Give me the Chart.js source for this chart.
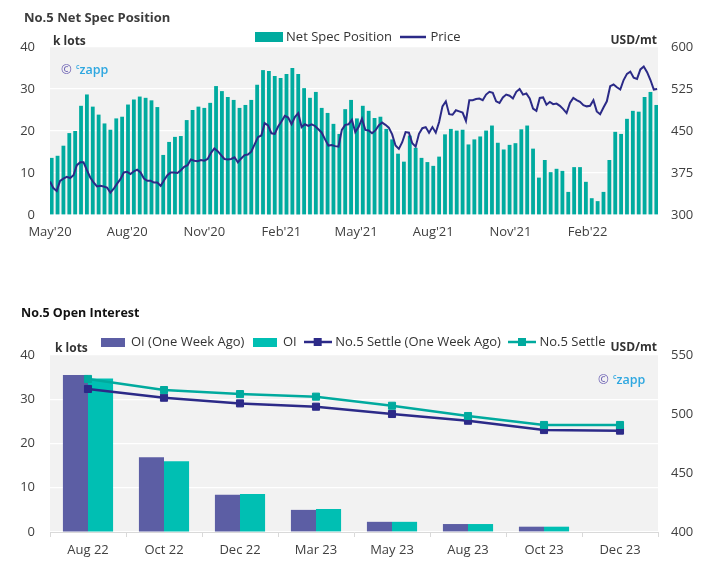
<!DOCTYPE html>
<html><head><meta charset="utf-8">
<script src="https://cdn.jsdelivr.net/npm/chart.js@4.4.0/dist/chart.umd.min.js"></script>
<style>
html,body{margin:0;padding:0;background:#fff;}
body{width:722px;height:566px;position:relative;overflow:hidden;font-family:'Open Sans',sans-serif;}
canvas{position:absolute;left:0;}
.t{position:absolute;white-space:nowrap;line-height:18px;z-index:2;}
.title{font-weight:700;}
.unit{font-weight:700;font-size:12px;color:#333;}
.wm{position:absolute;white-space:nowrap;line-height:18px;z-index:2;}
.wm .cp{color:#6a5fb3;font-size:13px;}
.wm .cz{color:#2ea7e0;font-size:12.5px;font-weight:600;}
.wm sup{font-size:7px;vertical-align:5px;}
</style></head><body>
<canvas id="c1" width="722" height="250" style="top:0"></canvas>
<canvas id="c2" width="722" height="276" style="top:290px"></canvas>
<div class="t title" style="left:24px;top:8px;font-size:13px;color:#3c3c3c">No.5 Net Spec Position</div>
<div class="t unit" style="left:53px;top:32px">k lots</div>
<div class="t unit" style="right:65px;top:30.5px">USD/mt</div>
<div class="wm" style="left:61px;top:58px"><span class="cp">©</span> <span class="cz"><sup>c</sup>zapp</span></div>
<div class="t title" style="left:21px;top:304px;font-size:12.5px;color:#111">No.5 Open Interest</div>
<div class="t unit" style="left:55px;top:338.5px">k lots</div>
<div class="t unit" style="right:65px;top:337.5px">USD/mt</div>
<div class="wm" style="left:598px;top:368px"><span class="cp">©</span> <span class="cz"><sup>c</sup>zapp</span></div>
<script>
// ---------- Chart 1 data: No.5 Net Spec Position ----------
const axisStart = '2020-05-01';
const axisEnd = '2022-04-26';
const monthTickDates = ['2020-05-01','2020-08-01','2020-11-01','2021-02-01','2021-05-01','2021-08-01','2021-11-01','2022-02-01'];
const monthTickLabels = ["May'20","Aug'20","Nov'20","Feb'21","May'21","Aug'21","Nov'21","Feb'22"];

const specStart = '2020-05-03';      // first weekly report, one bar per week
const netSpec = [
  13.6,14.1,16.5,19.5,20.0,26.0,28.7,25.8,23.9,21.8,20.3,23.0,23.4,26.3,27.5,28.2,27.9,27.3,25.7,14.3,17.4,18.6,18.8,22.6,25.0,25.8,
  25.5,26.7,30.7,29.5,28.1,27.4,25.5,26.2,27.4,31.0,34.5,34.3,33.1,32.6,33.6,35.0,33.6,30.2,27.9,29.3,25.5,24.3,21.7,19.3,25.2,27.4,
  23.0,26.0,24.8,23.1,23.4,20.5,18.0,14.6,12.7,18.9,16.0,13.6,12.6,11.7,13.9,19.2,20.5,20.1,20.3,16.8,18.0,18.7,20.1,21.3,17.2,15.6,
  16.7,17.1,20.4,21.3,15.8,8.9,13.1,10.2,11.0,10.5,5.5,11.4,11.4,7.9,4.0,3.3,5.5,13.1,19.8,19.3,22.9,24.8,24.6,28.1,29.3,26.2
];

const priceStart = '2020-05-01';     // price read every 4 days
const priceStepDays = 4;
const price = [
  360,348,343,361,365,368,366,371,389,394,
  394,380,367,358,351,352,351,349,340,347,
  356,364,376,377,373,378,381,376,365,361,
  361,358,358,352,362,371,376,376,375,380,
  386,389,399,397,396,398,
  397,400,411,419,414,407,400,399,400,403,
  394,401,407,408,413,426,439,442,464,460,
  446,445,458,467,477,474,462,475,482,457,
  462,459,462,459,453,447,435,424,425,423,
  422,452,461,462,470,
  448,457,472,452,451,446,451,460,465,461,
  456,444,424,418,430,448,447,428,422,445,
  455,457,447,457,447,466,494,503,480,479,
  487,485,483,468,505,505,507,508,505,515,
  520,518,503,500,510,515,
  513,508,520,525,515,517,508,490,486,509,
  510,497,502,498,499,495,489,482,500,509,
  505,502,496,494,495,505,485,480,492,503,
  530,533,528,524,541,552,556,545,543,560,
  565,555,541,524,525
];

// ---------- Chart 2 data: No.5 Open Interest ----------
const contracts = ['Aug 22','Oct 22','Dec 22','Mar 23','May 23','Aug 23','Oct 23','Dec 23'];
const oiWeekAgo = [35.5,16.9,8.4,5.0,2.3,1.8,1.2,0];
const oiNow = [34.7,16.0,8.6,5.2,2.3,1.8,1.2,0];
const settleWeekAgo = [521.2,513.8,509.0,506.2,500.0,494.3,486.4,485.9];
const settleNow = [529.7,520.3,516.9,514.7,507.0,498.3,490.7,490.7];

// ---------- helpers ----------
const DAY = 86400000;
const t0 = Date.parse(axisStart + 'T00:00:00Z');
const dayOf = s => (Date.parse(s + 'T00:00:00Z') - t0) / DAY;

const specData = netSpec.map((v, i) => ({x: dayOf(specStart) + 7 * i, y: v}));
const priceData = price.map((v, i) => ({x: dayOf(priceStart) + priceStepDays * i, y: v}));

const FONT = {family: "'Open Sans', sans-serif", size: 13};
const TXT = '#404040';

const plotBg = {
  id: 'plotBg',
  beforeDraw(chart) {
    const {ctx, chartArea: a} = chart;
    ctx.save();
    ctx.fillStyle = '#f2f2f2';
    ctx.fillRect(a.left, a.top, a.right - a.left, a.bottom - a.top);
    ctx.restore();
  }
};

function symbol(kind, color, w, h) {
  const c = document.createElement('canvas');
  c.width = w; c.height = h;
  const g = c.getContext('2d');
  if (kind === 'box') {
    g.fillStyle = color; g.fillRect(0, 0, w, h);
  } else {
    g.strokeStyle = color; g.lineWidth = 2.5;
    g.beginPath(); g.moveTo(0, h / 2); g.lineTo(w, h / 2); g.stroke();
    if (kind === 'marker') { g.fillStyle = color; g.fillRect(w / 2 - 4, h / 2 - 4, 8, 8); }
  }
  return c;
}

function legendOpts(symbols, maxH) {
  return {
    display: true, position: 'top', maxHeight: maxH,
    labels: {
      usePointStyle: true, pointStyleWidth: 22, padding: 10, font: FONT, color: '#333',
      generateLabels: chart => chart.data.datasets.map((ds, i) => ({
        text: ds.label, pointStyle: symbols[i], fillStyle: 'transparent', strokeStyle: 'transparent',
        lineWidth: 0, hidden: false, datasetIndex: i, fontColor: '#333'
      }))
    }
  };
}

// ---------- Chart 1 ----------
new Chart(document.getElementById('c1'), {
  type: 'bar',
  data: {
    datasets: [
      {type: 'bar', label: 'Net Spec Position', data: specData, yAxisID: 'y', backgroundColor: '#00ab9f',
       categoryPercentage: 1, barPercentage: 0.65, order: 1},
      {type: 'line', label: 'Price', data: priceData, yAxisID: 'y2', borderColor: '#2b2a87', backgroundColor: '#2b2a87',
       borderWidth: 2, pointRadius: 0, tension: 0, order: 0}
    ]
  },
  options: {
    responsive: false, animation: false,
    layout: {padding: {top: 20.5, right: 4, left: 0, bottom: 0}},
    plugins: {
      legend: legendOpts([symbol('box', '#00ab9f', 28, 10), symbol('line', '#2b2a87', 26, 10)], 26.5),
      tooltip: {enabled: false}
    },
    scales: {
      x: {
        type: 'linear', min: 0, max: dayOf(axisEnd), offset: false,
        grid: {display: false, offset: false, drawTicks: false}, border: {display: false},
        afterBuildTicks: s => { s.ticks = monthTickDates.map(d => ({value: dayOf(d)})); },
        afterFit: s => { s.height = 35; },
        ticks: {autoSkip: false, maxRotation: 0, padding: 9, color: TXT, font: FONT,
                callback: (v, i) => monthTickLabels[i]}
      },
      y: {
        position: 'left', min: 0, max: 40,
        ticks: {stepSize: 10, padding: 15, color: TXT, font: FONT},
        grid: {color: '#ffffff', lineWidth: 1.2, drawTicks: false}, border: {display: false},
        afterFit: s => { s.width = 50; }
      },
      y2: {
        position: 'right', min: 300, max: 600,
        ticks: {stepSize: 75, padding: 13, color: TXT, font: FONT},
        grid: {display: false, drawTicks: false}, border: {display: false},
        afterFit: s => { s.width = 60; }
      }
    }
  },
  plugins: [plotBg]
});

// ---------- Chart 2 ----------
new Chart(document.getElementById('c2'), {
  type: 'bar',
  data: {
    labels: contracts,
    datasets: [
      {label: 'OI (One Week Ago)', data: oiWeekAgo, yAxisID: 'y', backgroundColor: '#5c5ea4',
       categoryPercentage: 0.66, barPercentage: 1, order: 3},
      {label: 'OI', data: oiNow, yAxisID: 'y', backgroundColor: '#00bfb3',
       categoryPercentage: 0.66, barPercentage: 1, order: 3},
      {type: 'line', label: 'No.5 Settle (One Week Ago)', data: settleWeekAgo, yAxisID: 'y2',
       borderColor: '#2c2a88', backgroundColor: '#2c2a88', borderWidth: 2.5, tension: 0,
       pointStyle: 'rect', pointRadius: 5, pointBorderWidth: 1, order: 2},
      {type: 'line', label: 'No.5 Settle', data: settleNow, yAxisID: 'y2',
       borderColor: '#00aa9e', backgroundColor: '#00aa9e', borderWidth: 2.5, tension: 0,
       pointStyle: 'rect', pointRadius: 5, pointBorderWidth: 1, order: 1}
    ]
  },
  options: {
    responsive: false, animation: false,
    layout: {padding: {top: 35.5, right: 14, left: 0, bottom: 0}},
    plugins: {
      legend: legendOpts([symbol('box', '#5c5ea4', 24, 9), symbol('box', '#00bfb3', 24, 9),
                          symbol('marker', '#2c2a88', 28, 10), symbol('marker', '#00aa9e', 28, 10)], 29.5),
      tooltip: {enabled: false}
    },
    scales: {
      x: {
        grid: {display: true, drawOnChartArea: false, drawTicks: true, tickLength: 5, color: '#d9d9d9'},
        border: {display: true, color: '#d9d9d9'},
        ticks: {padding: 5, color: TXT, font: FONT, maxRotation: 0},
        afterFit: s => { s.height = 34; }
      },
      y: {
        position: 'left', min: 0, max: 40,
        ticks: {stepSize: 10, padding: 15, color: TXT, font: FONT},
        grid: {color: '#ffffff', lineWidth: 1.2, drawTicks: false}, border: {display: false},
        afterFit: s => { s.width = 50; }
      },
      y2: {
        position: 'right', min: 400, max: 550,
        ticks: {stepSize: 50, padding: 13, color: TXT, font: FONT},
        grid: {display: false, drawTicks: false}, border: {display: false},
        afterFit: s => { s.width = 50; }
      }
    }
  },
  plugins: [plotBg]
});
</script>
</body></html>
